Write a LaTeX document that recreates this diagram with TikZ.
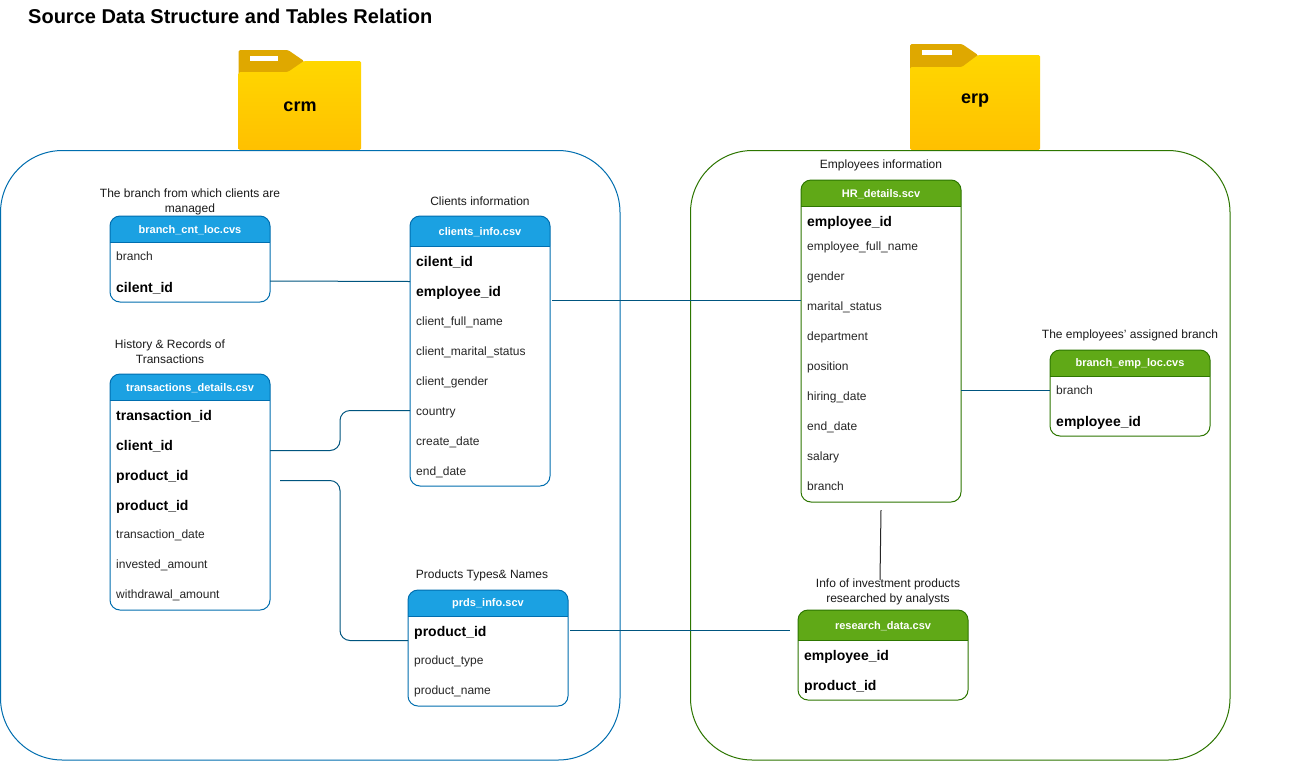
\documentclass[tikz,border=0pt]{standalone}
\usepackage{fontspec}
\setmainfont{Liberation Sans}
\usetikzlibrary{calc}
\definecolor{crmline}{HTML}{006EAF}
\definecolor{erpline}{HTML}{2D7600}
\definecolor{crmhead}{HTML}{1BA1E2}
\definecolor{erphead}{HTML}{60A917}
\definecolor{conn}{HTML}{00557F}
\definecolor{tabdark}{HTML}{DFA800}
\definecolor{foldertop}{HTML}{FFD700}
\definecolor{folderbottom}{HTML}{FFC000}
\definecolor{capt}{HTML}{1A1A1A}
\tikzset{
  x=1pt,y=-1pt,
  group/.style={draw=#1,line width=1pt,rounded corners=62pt,fill=none},
  rowtext/.style={anchor=base west,inner sep=0pt,font=\fontsize{12}{12}\selectfont,text=black!85},
  keytext/.style={anchor=base west,inner sep=0pt,font=\fontsize{14}{14}\selectfont\bfseries,text=black},
  headtext/.style={anchor=center,inner sep=0pt,font=\fontsize{11}{11}\selectfont\bfseries,text=white},
  caption/.style={anchor=center,inner sep=0pt,align=center,font=\fontsize{12}{15}\selectfont,text=capt},
  link/.style={draw=conn,line width=1pt,rounded corners=10pt},
  foldertext/.style={anchor=center,inner sep=0pt,font=\fontsize{18}{18}\selectfont\bfseries}
}
% name, x0, y0, x1, y1, y of header bottom, title, line, head
\newcommand{\tablebox}[9]{%
  \fill[#9] (#2,#6) -- (#2,#3+10) arc[start angle=180,end angle=90,radius=10pt] -- (#4-10,#3) arc[start angle=90,end angle=0,radius=10pt] -- (#4,#6) -- cycle;
  \node[draw=#8,line width=1pt,rounded corners=10pt,inner sep=0pt,outer sep=0pt,minimum width=#4pt-#2pt,minimum height=#5pt-#3pt,anchor=north west] (#1) at (#2,#3) {};
  \draw[#8,line width=1pt] (#2,#6) -- (#4,#6);
  \node[headtext] (#1-title) at ({(#2+#4)/2},{(#3+#6)/2+0.8}) {#7};
}
% folder: x0,y0 (top), x1, y1, tab-slant start x, main top y, notch y, white rect
\newcommand{\folder}[9]{%
  \fill[tabdark,rounded corners=1.5pt] (#1,#7+4) -- (#1,#2) -- (#5,#2) -- (#5+16,#6) -- (#5+16,#7+4) -- cycle;
  \shade[top color=foldertop,bottom color=folderbottom,rounded corners=1.5pt]
    (#1,#4) -- (#1,#7) -- (#5,#7) -- (#5+16,#6) -- (#3,#6) -- (#3,#4) -- cycle;
  \fill[white] (#8,#2+6) rectangle (#9,#2+11);
}
\begin{document}
\begin{tikzpicture}
\useasboundingbox (0,0) rectangle (1316,761);
\fill[white] (0,0) rectangle (1316,761);

\node[anchor=base west,inner sep=0pt,font=\fontsize{20}{20}\selectfont\bfseries] (heading) at (28,23) {Source Data Structure and Tables Relation};

% folders
\folder{238.5}{50}{361}{150}{288}{61}{72}{250}{278}
\node[foldertext] (crmlabel) at (300,107) {crm};
\folder{910}{44}{1040}{150}{962}{55}{67}{922}{952}
\node[foldertext] (erplabel) at (975,101) {erp};

% groups
\draw[group=crmline] (0.5,150.5) rectangle (620,760);
\draw[group=erpline] (690.5,150.5) rectangle (1230,760);

% captions
\node[caption] (c1) at (190,202) {The branch from which clients are\\managed};
\node[caption] (c2) at (480,201) {Clients information};
\node[caption] (c3) at (170,352) {History \& Records of\\Transactions};
\node[caption] (c4) at (482,575) {Products Types\& Names};
\node[caption] (c5) at (881,165) {Employees information};
\node[caption] (c6) at (1130,335) {The employees' assigned branch};
\node[caption] (c7) at (888,592) {Info of investment products\\researched by analysts};

% branch_cnt_loc
\tablebox{bcl}{110}{216}{270}{302}{242}{branch\_cnt\_loc.cvs}{crmline}{crmhead}
\node[rowtext] (bcl-branch) at (116,260) {branch};
\node[keytext] (bcl-client) at (116,292) {cilent\_id};

% clients_info
\tablebox{ci}{410}{216}{550}{486}{246}{clients\_info.csv}{crmline}{crmhead}
\node[keytext] (ci-a) at (416,266) {cilent\_id};
\node[keytext] (ci-b) at (416,296) {employee\_id};
\node[rowtext] (ci-c) at (416,325) {client\_full\_name};
\node[rowtext] (ci-d) at (416,355) {client\_marital\_status};
\node[rowtext] (ci-e) at (416,385) {client\_gender};
\node[rowtext] (ci-f) at (416,415) {country};
\node[rowtext] (ci-g) at (416,445) {create\_date};
\node[rowtext] (ci-h) at (416,475) {end\_date};

% transactions
\tablebox{td}{110}{374}{270}{610}{400}{transactions\_details.csv}{crmline}{crmhead}
\node[keytext] (td-a) at (116,420) {transaction\_id};
\node[keytext] (td-b) at (116,450) {client\_id};
\node[keytext] (td-c) at (116,480) {product\_id};
\node[keytext] (td-d) at (116,510) {product\_id};
\node[rowtext] (td-e) at (116,538) {transaction\_date};
\node[rowtext] (td-f) at (116,568) {invested\_amount};
\node[rowtext] (td-g) at (116,598) {withdrawal\_amount};

% prds_info
\tablebox{pi}{408}{590}{568}{706}{616}{prds\_info.scv}{crmline}{crmhead}
\node[keytext] (pi-a) at (414,636) {product\_id};
\node[rowtext] (pi-b) at (414,664) {product\_type};
\node[rowtext] (pi-c) at (414,694) {product\_name};

% HR_details
\tablebox{hr}{801}{180}{961}{502}{206}{HR\_details.scv}{erpline}{erphead}
\node[keytext] (hr-a) at (807,226) {employee\_id};
\node[rowtext] (hr-b) at (807,250) {employee\_full\_name};
\node[rowtext] (hr-c) at (807,280) {gender};
\node[rowtext] (hr-d) at (807,310) {marital\_status};
\node[rowtext] (hr-e) at (807,340) {department};
\node[rowtext] (hr-f) at (807,370) {position};
\node[rowtext] (hr-g) at (807,400) {hiring\_date};
\node[rowtext] (hr-h) at (807,430) {end\_date};
\node[rowtext] (hr-i) at (807,460) {salary};
\node[rowtext] (hr-j) at (807,490) {branch};

% branch_emp_loc
\tablebox{bel}{1050}{350}{1210}{436}{376}{branch\_emp\_loc.cvs}{erpline}{erphead}
\node[rowtext] (bel-a) at (1056,394) {branch};
\node[keytext] (bel-b) at (1056,426) {employee\_id};

% research_data
\tablebox{rd}{798}{610}{968}{700}{640}{research\_data.csv}{erpline}{erphead}
\node[keytext] (rd-a) at (804,660) {employee\_id};
\node[keytext] (rd-b) at (804,690) {product\_id};

% connectors, each tied to its table
\draw[link] ($(bcl.east)+(0,22)$) -- ($(ci.west)+(0,-69.5)$);
\draw[link] ($(ci.east)+(2,-50.5)$) -- ($(hr.west)+(0,-40.5)$);
\draw[link] ($(td.east)+(0,-41.5)$) -- ++(70,0) |- ($(ci.west)+(0,59.5)$);
\draw[link] ($(td.east)+(10,-11.5)$) -- ++(60,0) |- ($(pi.west)+(0,-7.5)$);
\draw[link] ($(pi.east)+(2,-17.5)$) -- ($(rd.west)+(-8,-24.5)$);
\draw[link] ($(hr.east)+(0,49.5)$) -- ($(bel.west)+(0,-2.5)$);
\draw[black!85,line width=1pt] ($(hr.south)+(0,8)$) -- ($(rd.north)+(-3,-30)$);
\end{tikzpicture}
\end{document}
